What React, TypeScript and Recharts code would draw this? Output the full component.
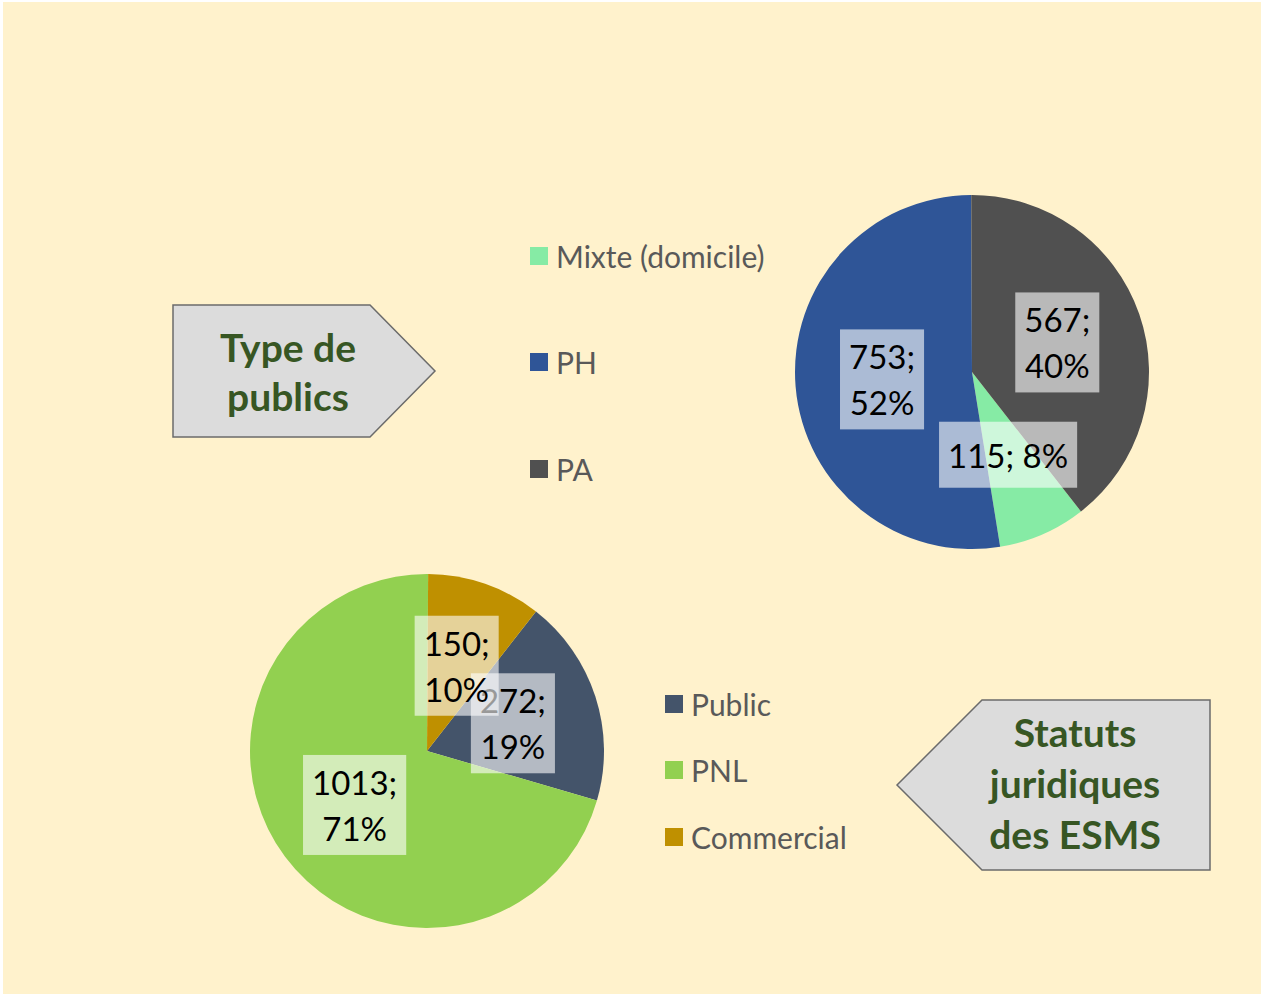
import React from 'react';
import { PieChart, Pie, Cell } from 'recharts';

// Type de publics
const typeNames = ['Mixte (domicile)', 'PH', 'PA'];
const typeValues = [115, 753, 567];
const typeColors = ['#86EBA5', '#2F5597', '#505050'];

// Statuts juridiques
const statutNames = ['Public', 'PNL', 'Commercial'];
const statutValues = [272, 1013, 150];
const statutColors = ['#44546A', '#92D050', '#BF9000'];

const singleLineLabels = ['Mixte (domicile)'];

const FONT = 'Lato, Carlito, "Open Sans", sans-serif';
const LABEL_SIZE = 33;
const RADIAN = Math.PI / 180;

const typeData = typeNames.map((name, i) => ({ name, value: typeValues[i] }));
const statutData = statutNames.map((name, i) => ({ name, value: statutValues[i] }));

let ctx: CanvasRenderingContext2D | null = null;
const measure = (txt: string) => {
  if (!ctx) ctx = document.createElement('canvas').getContext('2d');
  if (!ctx) return txt.length * LABEL_SIZE * 0.55;
  ctx.font = `${LABEL_SIZE}px ${FONT}`;
  return ctx.measureText(txt).width;
};

const renderLabel = (props: any) => {
  const { cx, cy, midAngle, outerRadius, percent, value, name } = props;
  const r = outerRadius * 0.51;
  const x = cx + r * Math.cos(-midAngle * RADIAN);
  const y = cy + r * Math.sin(-midAngle * RADIAN);
  const pct = `${Math.round(percent * 100)}%`;
  const lines = singleLineLabels.includes(name) ? [`${value}; ${pct}`] : [`${value};`, pct];
  const w = Math.max(...lines.map(measure)) + 18;
  const h = 34 * lines.length + 32;
  const lh = 46;
  return (
    <g key={`lbl-${name}`}>
      <rect x={x - w / 2} y={y - h / 2} width={w} height={h} fill="#ffffff" fillOpacity={0.6} />
      {lines.map((l, i) => (
        <text
          key={i}
          x={x}
          y={y + (i - (lines.length - 1) / 2) * lh}
          textAnchor="middle"
          dominantBaseline="central"
          fontSize={LABEL_SIZE}
          fontFamily={FONT}
          fill="#000000"
        >
          {l}
        </text>
      ))}
    </g>
  );
};

const LegendBlock = ({ names, colors, x, ys }: { names: string[]; colors: string[]; x: number; ys: number[] }) => (
  <g>
    {names.map((n, i) => (
      <g key={n}>
        <rect x={x} y={ys[i] - 9} width={18} height={18} fill={colors[i]} />
        <text x={x + 26} y={ys[i]} dominantBaseline="central" fontSize={30} fontFamily={FONT} fill="#595959">
          {n}
        </text>
      </g>
    ))}
  </g>
);

export default function App() {
  const W = 1258;
  const H = 992;
  return (
    <div style={{ position: 'absolute', left: 3, top: 2, width: W, height: H, background: '#FFF2CC' }}>
      <svg width={W} height={H} style={{ position: 'absolute', left: 0, top: 0 }}>
        <polygon
          points="170,303 367,303 432,369 367,435 170,435"
          fill="#DCDCDC"
          stroke="#6b6b6b"
          strokeWidth={1.5}
        />
        <text textAnchor="middle" fontFamily={FONT} fontWeight={700} fontSize={39} fill="#375623">
          <tspan x={285} y={360}>Type de</tspan>
          <tspan x={285} y={409}>publics</tspan>
        </text>
        <polygon
          points="894,783 979,698 1207,698 1207,868 979,868"
          fill="#DCDCDC"
          stroke="#6b6b6b"
          strokeWidth={1.5}
        />
        <text textAnchor="middle" fontFamily={FONT} fontWeight={700} fontSize={39} fill="#375623">
          <tspan x={1072} y={745}>Statuts</tspan>
          <tspan x={1072} y={796}>juridiques</tspan>
          <tspan x={1072} y={847}>des ESMS</tspan>
        </text>
        <LegendBlock names={typeNames} colors={typeColors} x={527} ys={[254, 360, 467]} />
        <LegendBlock names={statutNames} colors={statutColors} x={662} ys={[702, 768, 835]} />
      </svg>
      <div style={{ position: 'absolute', left: 0, top: 0 }}>
        <PieChart width={W} height={H} margin={{ top: 0, right: 0, bottom: 0, left: 0 }}>
          <Pie
            data={typeData}
            dataKey="value"
            nameKey="name"
            cx={969}
            cy={370}
            outerRadius={177}
            startAngle={-52}
            endAngle={-412}
            stroke="none"
            labelLine={false}
            label={renderLabel}
            isAnimationActive={false}
          >
            {typeData.map((d, i) => (
              <Cell key={d.name} fill={typeColors[i]} />
            ))}
          </Pie>
          <Pie
            data={statutData}
            dataKey="value"
            nameKey="name"
            cx={424}
            cy={749}
            outerRadius={177}
            startAngle={52}
            endAngle={-308}
            stroke="none"
            labelLine={false}
            label={renderLabel}
            isAnimationActive={false}
          >
            {statutData.map((d, i) => (
              <Cell key={d.name} fill={statutColors[i]} />
            ))}
          </Pie>
        </PieChart>
      </div>
    </div>
  );
}
